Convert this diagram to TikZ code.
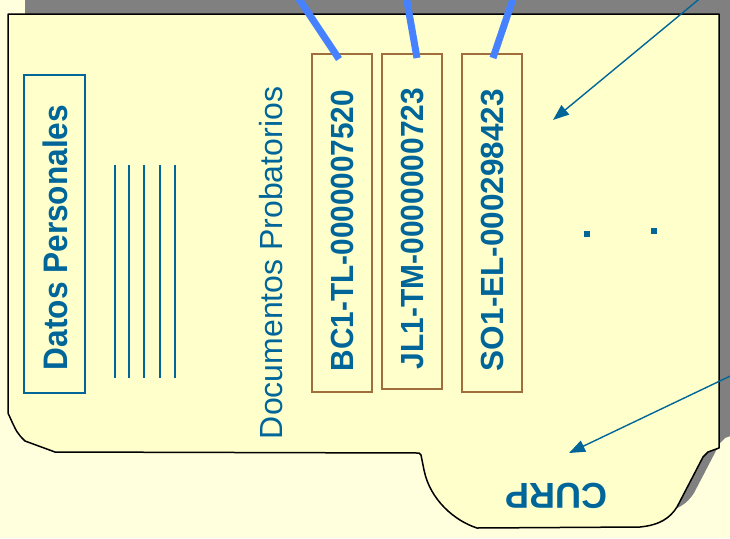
\documentclass[tikz,border=0pt]{standalone}
\usepackage{fontspec}
\setmainfont{Liberation Sans}
\usetikzlibrary{arrows.meta}

\definecolor{pagebg}{RGB}{255,255,222}
\definecolor{cardfill}{RGB}{255,255,204}
\definecolor{shadowgray}{RGB}{128,128,128}
\definecolor{ink}{RGB}{0,102,153}
\definecolor{linkblue}{RGB}{70,130,255}
\definecolor{tagbrown}{RGB}{160,110,60}

% outline of the folder card (tab at the bottom right)
\def\cardoutline{(8,14) -- (719,14) -- (719,448) -- (708,452) -- (703,457)
  -- (677,507) .. controls (670,518) and (660,525) .. (640,527) -- (477,528)
  .. controls (455,521) and (430,500) .. (424,470) -- (421,455) -- (419,453)
  -- (55,452) -- (25,441) .. controls (17,433) .. (8,413) -- cycle}

% slightly condensed bold label text
\newcommand\narrowlabel[2]{\scalebox{#1}[1]{#2}}

\tikzset{
  lbl/.style={text=ink, inner sep=0pt, font=\bfseries},
  tagbox/.style={draw=tagbrown, line width=1.4pt, rotate=90, inner sep=0pt},
  linkline/.style={draw=linkblue, line width=7pt},
  pointer/.style={draw=ink, line width=1.4pt, -{Triangle[length=16pt,width=12pt]}},
  rule/.style={draw=ink, line width=1.3pt},
  dotmark/.style={fill=ink, minimum size=6pt, inner sep=0pt},
}

\begin{document}
\begin{tikzpicture}[x=1pt,y=-1pt]
\path[use as bounding box, fill=pagebg] (0,0) rectangle (730,538);
\clip (0,0) rectangle (730,538);

% card with its drop shadow
\fill[shadowgray, shift={(17,-14)}] \cardoutline;
\filldraw[fill=cardfill, draw=black, line width=1.5pt, line join=round] \cardoutline;

% personal data block
\node[draw=ink, line width=1.3pt, rotate=90, minimum width=318pt, minimum height=61pt, inner sep=0pt] (datosbox) at (54.5,234) {};
\node[lbl, rotate=90, font=\bfseries\fontsize{34}{40}\selectfont] (datos) at (55.5,237.5) {\narrowlabel{0.93}{Datos Personales}};

\foreach \i/\x in {1/115,2/129,3/144,4/160,5/175}{
  \coordinate (r\i a) at (\x,165);
  \coordinate (r\i b) at (\x,378);
  \draw[rule] (r\i a) -- (r\i b);
}

% supporting documents
\node[text=ink, inner sep=0pt, rotate=90, font=\fontsize{32}{38}\selectfont] (docs) at (271.5,263) {Documentos Probatorios};

\node[tagbox, minimum width=338pt, minimum height=60pt] (tag1) at (342,223) {};
\node[tagbox, minimum width=335pt, minimum height=60pt] (tag2) at (412,221.5) {};
\node[tagbox, minimum width=338pt, minimum height=60pt] (tag3) at (492,223) {};

\node[lbl, rotate=90, font=\bfseries\fontsize{32}{38}\selectfont] (t1) at (342.5,230.5) {\narrowlabel{0.93}{BC1-TL-0000007520}};
\node[lbl, rotate=90, font=\bfseries\fontsize{32}{38}\selectfont] (t2) at (413,228.5) {\narrowlabel{0.935}{JL1-TM-0000000723}};
\node[lbl, rotate=90, font=\bfseries\fontsize{32}{38}\selectfont] (t3) at (492.5,230) {\narrowlabel{0.985}{SO1-EL-000298423}};

% links coming in from above
\coordinate (l1s) at (293,-10);
\coordinate (l1e) at (339,59);
\coordinate (l2s) at (405,-10);
\coordinate (l2e) at (417,58);
\coordinate (l3s) at (516,-10);
\coordinate (l3e) at (493,58);
\draw[linkline] (l1s) -- (l1e);
\draw[linkline] (l2s) -- (l2e);
\draw[linkline] (l3s) -- (l3e);

% continuation marks
\node[dotmark] (dot1) at (587,234) {};
\node[dotmark] (dot2) at (654,231) {};

% pointers
\coordinate (p1s) at (715,-14);
\coordinate (p1e) at (553,120);
\draw[pointer] (p1s) -- (p1e);
\coordinate (p2s) at (745,369);
\coordinate (p2e) at (569,453);
\draw[pointer] (p2s) -- (p2e);

% tab label
\node[lbl, rotate=180, font=\bfseries\fontsize{36}{42}\selectfont] (curp) at (556,496) {CURP};
\end{tikzpicture}
\end{document}
